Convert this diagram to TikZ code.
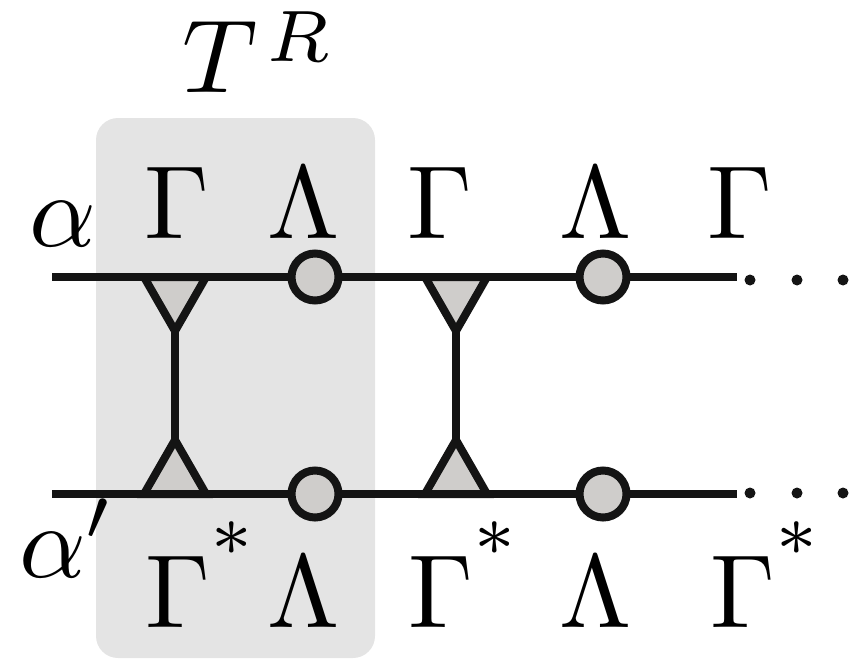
\documentclass[tikz,border=0pt]{standalone}
\definecolor{ink}{HTML}{141414}
\definecolor{shade}{HTML}{CFCDCB}
\definecolor{boxgray}{HTML}{E4E4E4}
\newcommand{\cstar}{^{\raisebox{3.2pt}{$\scriptstyle\ast$}}}
\begin{document}
\begin{tikzpicture}[x=1pt,y=-1pt,
  wire/.style={line width=8pt, draw=ink},
  tri/.style={line width=8pt, draw=ink, fill=shade, line join=miter},
  lam/.style={circle, draw=ink, fill=shade, line width=8pt, minimum size=47pt, inner sep=0pt},
  lbl/.style={font=\fontsize{10}{12}\selectfont, scale=10.4, inner sep=0pt, text=black},
  edot/.style={circle, fill=ink, minimum size=11pt, inner sep=0pt}]
\useasboundingbox (0,0) rectangle (850,658);
% unit cell
\fill[boxgray, rounded corners=22pt] (96,118) rectangle (375,658);
\node[lbl, anchor=base west] (tr) at (180,93) {$T^{\mkern2mu\raisebox{-0.6pt}{$\scriptstyle R$}}$};

% ket and bra wires
\coordinate (aL) at (52,277);  \coordinate (aR) at (737,277);
\coordinate (bL) at (52,494);  \coordinate (bR) at (737,494);
\draw[wire] (aL) -- (aR);
\draw[wire] (bL) -- (bR);

% Gamma tensors and their contracted physical legs
\foreach \cx/\n in {175/1, 456/2} {
  \coordinate (ta\n) at (\cx,331);
  \coordinate (tb\n) at (\cx,440);
  \draw[wire] (ta\n) -- (tb\n);
  \draw[tri] (\cx-31,277) -- (\cx+31,277) -- (ta\n) -- cycle;
  \draw[tri] (\cx-31,494) -- (\cx+31,494) -- (tb\n) -- cycle;
}

% Lambda matrices
\node[lam] (la1) at (315,277) {};
\node[lam] (la2) at (603,277) {};
\node[lam] (lb1) at (315,494) {};
\node[lam] (lb2) at (603,494) {};

% continuation dots
\foreach \x/\i in {750/1, 797/2, 843/3} {
  \node[edot] (da\i) at (\x,280) {};
  \node[edot] (db\i) at (\x,493) {};
}

% index labels
\node[lbl, anchor=base west] (alpha) at (27,246) {$\alpha$};
\node[lbl, anchor=base west] (alphap) at (17,577) {$\alpha'$};

% upper labels
\node[lbl, anchor=base] (g1) at (177,238) {$\Gamma$};
\node[lbl, anchor=base] (l1) at (304,238) {$\Lambda$};
\node[lbl, anchor=base] (g2) at (440,238) {$\Gamma$};
\node[lbl, anchor=base] (l2) at (596,238) {$\Lambda$};
\node[lbl, anchor=base] (g3) at (740,238) {$\Gamma$};

% lower labels
\node[lbl, anchor=base west] (gs1) at (143,627) {$\Gamma\cstar$};
\node[lbl, anchor=base] (ls1) at (304,627) {$\Lambda$};
\node[lbl, anchor=base west] (gs2) at (406,627) {$\Gamma\cstar$};
\node[lbl, anchor=base] (ls2) at (596,627) {$\Lambda$};
\node[lbl, anchor=base west] (gs3) at (708,627) {$\Gamma\cstar$};
\end{tikzpicture}
\end{document}
